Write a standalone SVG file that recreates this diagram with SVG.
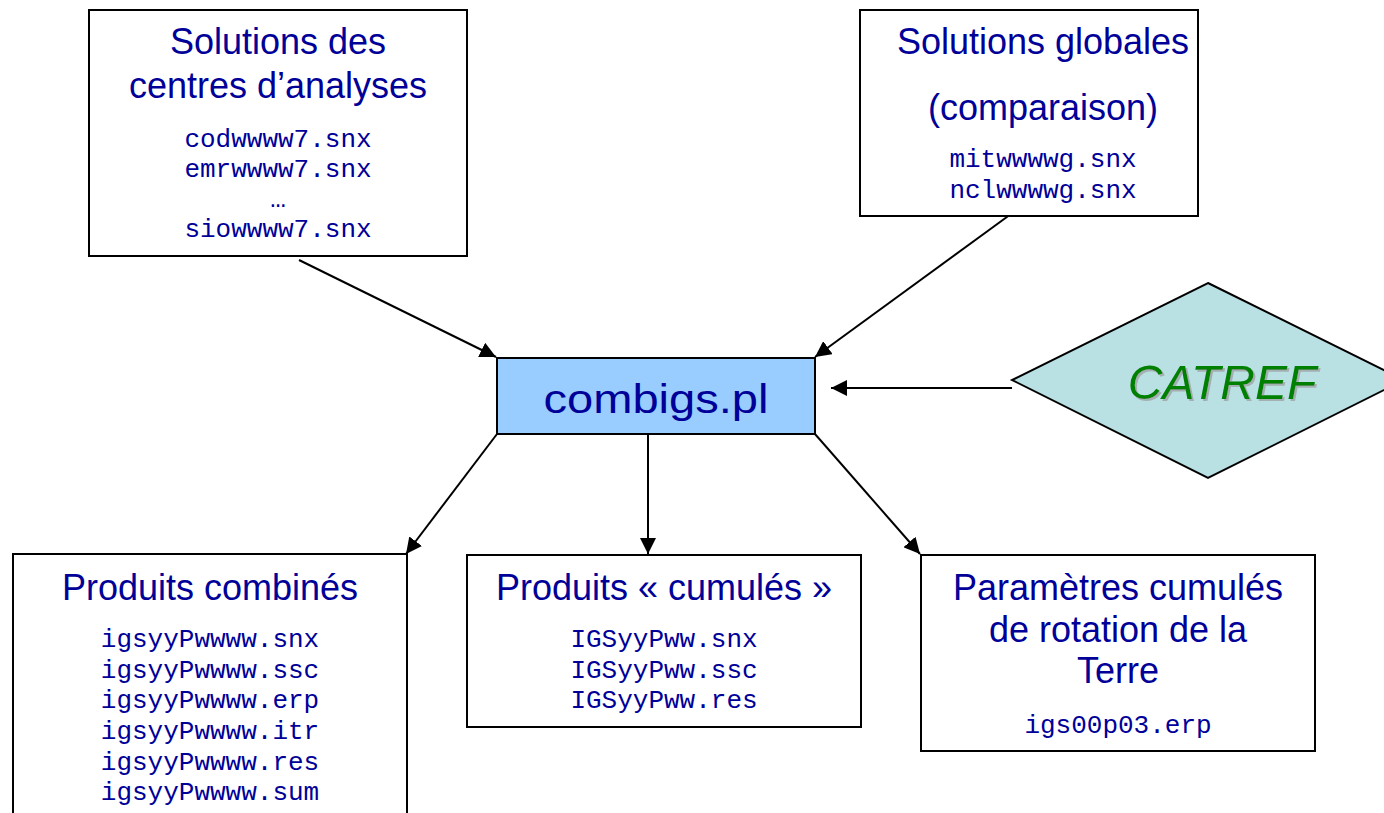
<svg xmlns="http://www.w3.org/2000/svg" width="1384" height="813" viewBox="0 0 1384 813">
<defs>
<marker id="ah" viewBox="0 0 10 10" refX="10" refY="5" markerWidth="16" markerHeight="16" markerUnits="userSpaceOnUse" orient="auto">
<path d="M0,0 L10,5 L0,10 z" fill="#000"/>
</marker>
<filter id="sh" x="-10%" y="-10%" width="130%" height="130%">
<feOffset dx="2" dy="2" in="SourceAlpha" result="o"/>
<feFlood flood-color="#999999" flood-opacity="0.7"/>
<feComposite in2="o" operator="in" result="s"/>
<feMerge><feMergeNode in="s"/><feMergeNode in="SourceGraphic"/></feMerge>
</filter>
</defs>
<style>
.box{fill:#fff;stroke:#000;stroke-width:2}
.t{font-family:"Liberation Sans",Arial,sans-serif;font-size:36px;fill:#000099;text-anchor:middle}
.m{font-family:"Liberation Mono","Courier New",monospace;font-size:26px;fill:#000099;text-anchor:middle}
.c{stroke:#000;stroke-width:2;fill:none;marker-end:url(#ah)}
</style>
<rect width="1384" height="813" fill="#fff"/>
<g id="connectors">
<line class="c" x1="299" y1="260" x2="496" y2="357"/>
<line class="c" x1="1011" y1="214" x2="815" y2="357"/>
<line class="c" x1="1012" y1="388" x2="831" y2="388"/>
<line class="c" x1="497" y1="434" x2="406" y2="554"/>
<line class="c" x1="648" y1="434" x2="648" y2="554"/>
<line class="c" x1="815" y1="434" x2="920" y2="554"/>
</g>
<g id="solutions-centres">
<rect class="box" x="89" y="10" width="378" height="246"/>
<text class="t" x="278" y="54">Solutions des</text>
<text class="t" x="278" y="98">centres d’analyses</text>
<text class="m" x="278" y="147">codwwww7.snx</text>
<text class="m" x="278" y="177">emrwwww7.snx</text>
<text class="m" x="278" y="207">…</text>
<text class="m" x="278" y="237">siowwww7.snx</text>
</g>
<g id="solutions-globales">
<rect class="box" x="860" y="10" width="338" height="206"/>
<text class="t" x="1043" y="54">Solutions globales</text>
<text class="t" x="1043" y="120">(comparaison)</text>
<text class="m" x="1043" y="167">mitwwwwg.snx</text>
<text class="m" x="1043" y="198">nclwwwwg.snx</text>
</g>
<g id="combigs">
<rect x="497" y="358" width="318" height="76" fill="#99CCFF" stroke="#000" stroke-width="2"/>
<text class="t" x="656" y="413" style="font-size:40px" textLength="225" lengthAdjust="spacingAndGlyphs">combigs.pl</text>
</g>
<g id="catref">
<polygon points="1208,283 1404,380 1208,478 1012,380" fill="#B9E0E3" stroke="#000" stroke-width="2"/>
<text x="1222" y="399" filter="url(#sh)" style="font-family:'Liberation Sans',Arial,sans-serif;font-size:48px;font-style:italic;fill:#008000;text-anchor:middle">CATREF</text>
</g>
<g id="produits-combines">
<rect class="box" x="13" y="554" width="394" height="270"/>
<text class="t" x="210" y="600">Produits combinés</text>
<text class="m" x="210" y="647">igsyyPwwww.snx</text>
<text class="m" x="210" y="678">igsyyPwwww.ssc</text>
<text class="m" x="210" y="708">igsyyPwwww.erp</text>
<text class="m" x="210" y="739">igsyyPwwww.itr</text>
<text class="m" x="210" y="770">igsyyPwwww.res</text>
<text class="m" x="210" y="800">igsyyPwwww.sum</text>
</g>
<g id="produits-cumules">
<rect class="box" x="467" y="555" width="394" height="172"/>
<text class="t" x="664" y="600">Produits « cumulés »</text>
<text class="m" x="664" y="647">IGSyyPww.snx</text>
<text class="m" x="664" y="678">IGSyyPww.ssc</text>
<text class="m" x="664" y="708">IGSyyPww.res</text>
</g>
<g id="parametres">
<rect class="box" x="921" y="555" width="394" height="196"/>
<text class="t" x="1118" y="600">Paramètres cumulés</text>
<text class="t" x="1118" y="642">de rotation de la</text>
<text class="t" x="1118" y="683">Terre</text>
<text class="m" x="1118" y="733">igs00p03.erp</text>
</g>
</svg>
